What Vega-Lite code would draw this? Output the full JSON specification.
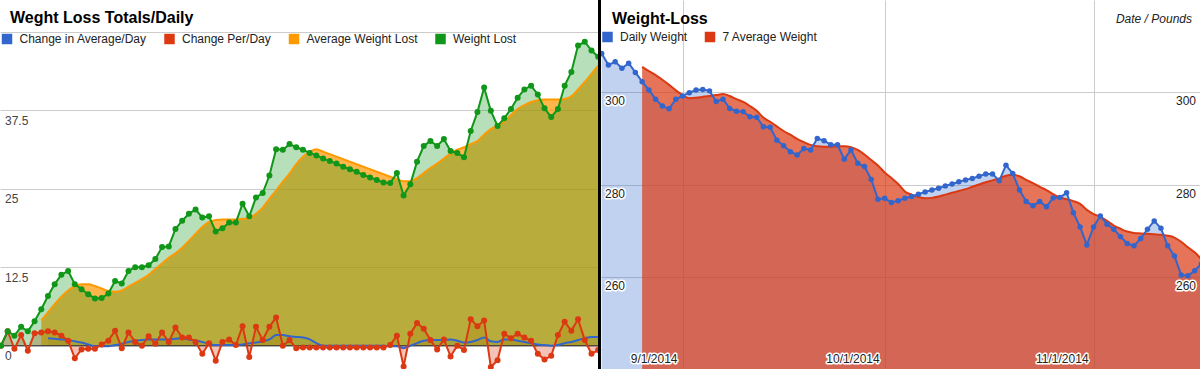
{
"$schema": "https://vega.github.io/schema/vega-lite/v6.json",
"width": 1200, "height": 369,
"autosize": {"type": "none"},
"padding": 0,
"background": "#ffffff",
"title": {"text": "Weght Loss Totals/Daily", "anchor": "start", "frame": "group", "orient": "top", "baseline": "top", "offset": -27, "dx": 10, "fontSize": 16, "fontWeight": "bold", "color": "#000000", "font": "Liberation Sans"},
"config": {
  "font": "Liberation Sans",
  "view": {"stroke": null},
  "legend": {"orient": "none", "direction": "horizontal", "symbolType": "square", "symbolSize": 110, "symbolStrokeWidth": 0, "symbolOpacity": 1, "labelFontSize": 12, "labelColor": "#222222", "labelFont": "Liberation Sans", "columnPadding": 16.5, "labelOffset": 6.5, "padding": 0}
},
"datasets": {
  "L": [
    {"i":0,"wl":0.0,"avg":null,"cpd":0.0,"cad":null},
    {"i":1,"wl":2.3,"avg":null,"cpd":2.3,"cad":null},
    {"i":2,"wl":1.6,"avg":null,"cpd":-0.5,"cad":null},
    {"i":3,"wl":3.0,"avg":null,"cpd":1.7,"cad":null},
    {"i":4,"wl":2.3,"avg":null,"cpd":-0.8,"cad":null},
    {"i":5,"wl":3.9,"avg":null,"cpd":2.0,"cad":null},
    {"i":6,"wl":5.8,"avg":4.0,"cpd":2.1,"cad":null},
    {"i":7,"wl":7.9,"avg":5.3,"cpd":2.3,"cad":1.2},
    {"i":8,"wl":9.8,"avg":6.6,"cpd":2.1,"cad":1.1},
    {"i":9,"wl":11.3,"avg":7.8,"cpd":1.6,"cad":1.0},
    {"i":10,"wl":11.9,"avg":8.8,"cpd":0.8,"cad":0.9},
    {"i":11,"wl":9.8,"avg":9.5,"cpd":-2.0,"cad":0.7},
    {"i":12,"wl":9.0,"avg":9.8,"cpd":-0.6,"cad":0.5},
    {"i":13,"wl":8.2,"avg":9.8,"cpd":-0.5,"cad":0.2},
    {"i":14,"wl":7.5,"avg":9.5,"cpd":-0.5,"cad":-0.1},
    {"i":15,"wl":7.6,"avg":9.1,"cpd":0.2,"cad":-0.1},
    {"i":16,"wl":8.3,"avg":8.7,"cpd":0.8,"cad":-0.1},
    {"i":17,"wl":10.3,"avg":8.6,"cpd":2.4,"cad":0.1},
    {"i":18,"wl":9.9,"avg":8.8,"cpd":-0.4,"cad":0.3},
    {"i":19,"wl":11.9,"avg":9.4,"cpd":2.1,"cad":0.6},
    {"i":20,"wl":12.5,"avg":10.0,"cpd":0.6,"cad":0.8},
    {"i":21,"wl":12.5,"avg":10.6,"cpd":0.0,"cad":0.9},
    {"i":22,"wl":12.8,"avg":11.3,"cpd":1.5,"cad":1.0},
    {"i":23,"wl":13.8,"avg":12.2,"cpd":0.3,"cad":1.0},
    {"i":24,"wl":15.7,"avg":13.1,"cpd":2.1,"cad":1.0},
    {"i":25,"wl":15.8,"avg":14.0,"cpd":0.6,"cad":1.0},
    {"i":26,"wl":18.6,"avg":14.7,"cpd":2.9,"cad":1.1},
    {"i":27,"wl":19.9,"avg":15.6,"cpd":1.3,"cad":1.2},
    {"i":28,"wl":21.0,"avg":16.7,"cpd":1.3,"cad":1.0},
    {"i":29,"wl":21.7,"avg":17.8,"cpd":0.6,"cad":0.8},
    {"i":30,"wl":20.4,"avg":18.9,"cpd":-1.3,"cad":0.6},
    {"i":31,"wl":20.6,"avg":19.7,"cpd":0.4,"cad":0.3},
    {"i":32,"wl":18.2,"avg":20.0,"cpd":-2.4,"cad":0.1},
    {"i":33,"wl":18.7,"avg":20.1,"cpd":0.6,"cad":0.1},
    {"i":34,"wl":19.6,"avg":20.1,"cpd":1.0,"cad":0.1},
    {"i":35,"wl":19.6,"avg":20.1,"cpd":0.1,"cad":0.1},
    {"i":36,"wl":22.6,"avg":20.2,"cpd":3.1,"cad":0.2},
    {"i":37,"wl":20.6,"avg":20.3,"cpd":-1.8,"cad":0.4},
    {"i":38,"wl":23.6,"avg":21.0,"cpd":3.0,"cad":0.5},
    {"i":39,"wl":24.3,"avg":22.0,"cpd":0.9,"cad":0.7},
    {"i":40,"wl":27.1,"avg":23.4,"cpd":3.0,"cad":1.0},
    {"i":41,"wl":31.3,"avg":24.7,"cpd":4.5,"cad":1.7},
    {"i":42,"wl":31.2,"avg":26.1,"cpd":0.0,"cad":1.7},
    {"i":43,"wl":32.1,"avg":27.4,"cpd":0.9,"cad":1.5},
    {"i":44,"wl":31.6,"avg":28.9,"cpd":-0.4,"cad":1.4},
    {"i":45,"wl":31.2,"avg":30.1,"cpd":-0.3,"cad":1.3},
    {"i":46,"wl":30.7,"avg":30.9,"cpd":-0.3,"cad":1.0},
    {"i":47,"wl":30.3,"avg":31.3,"cpd":-0.3,"cad":0.4},
    {"i":48,"wl":29.8,"avg":30.9,"cpd":-0.3,"cad":0.0},
    {"i":49,"wl":29.4,"avg":30.5,"cpd":-0.3,"cad":0.0},
    {"i":50,"wl":29.0,"avg":30.1,"cpd":-0.3,"cad":0.0},
    {"i":51,"wl":28.5,"avg":29.7,"cpd":-0.3,"cad":0.0},
    {"i":52,"wl":28.1,"avg":29.3,"cpd":-0.3,"cad":0.0},
    {"i":53,"wl":27.7,"avg":28.9,"cpd":-0.3,"cad":0.0},
    {"i":54,"wl":27.2,"avg":28.5,"cpd":-0.3,"cad":0.0},
    {"i":55,"wl":26.8,"avg":28.1,"cpd":-0.3,"cad":0.0},
    {"i":56,"wl":26.4,"avg":27.7,"cpd":-0.3,"cad":0.0},
    {"i":57,"wl":26.0,"avg":27.3,"cpd":-0.3,"cad":0.0},
    {"i":58,"wl":25.9,"avg":26.9,"cpd":0.1,"cad":-0.1},
    {"i":59,"wl":27.5,"avg":26.5,"cpd":1.6,"cad":-0.1},
    {"i":60,"wl":23.9,"avg":26.2,"cpd":-3.3,"cad":-0.4},
    {"i":61,"wl":25.7,"avg":26.2,"cpd":1.9,"cad":0.0},
    {"i":62,"wl":29.3,"avg":26.7,"cpd":3.6,"cad":0.4},
    {"i":63,"wl":31.8,"avg":27.5,"cpd":2.7,"cad":0.8},
    {"i":64,"wl":32.6,"avg":28.3,"cpd":0.9,"cad":0.9},
    {"i":65,"wl":31.8,"avg":29.0,"cpd":-0.6,"cad":0.9},
    {"i":66,"wl":32.9,"avg":29.8,"cpd":1.0,"cad":0.9},
    {"i":67,"wl":31.0,"avg":30.6,"cpd":-1.7,"cad":1.0},
    {"i":68,"wl":30.7,"avg":31.2,"cpd":0.0,"cad":0.8},
    {"i":69,"wl":30.0,"avg":31.6,"cpd":-0.7,"cad":0.5},
    {"i":70,"wl":34.2,"avg":32.1,"cpd":4.2,"cad":0.6},
    {"i":71,"wl":37.2,"avg":32.6,"cpd":3.1,"cad":0.9},
    {"i":72,"wl":41.1,"avg":33.6,"cpd":4.0,"cad":1.3},
    {"i":73,"wl":37.4,"avg":34.5,"cpd":-3.4,"cad":0.7},
    {"i":74,"wl":35.0,"avg":35.0,"cpd":-2.3,"cad":0.6},
    {"i":75,"wl":36.2,"avg":35.7,"cpd":1.9,"cad":1.0},
    {"i":76,"wl":37.7,"avg":36.7,"cpd":1.2,"cad":1.0},
    {"i":77,"wl":39.5,"avg":37.7,"cpd":1.9,"cad":0.8},
    {"i":78,"wl":40.8,"avg":38.3,"cpd":1.3,"cad":0.6},
    {"i":79,"wl":41.4,"avg":38.8,"cpd":0.8,"cad":0.4},
    {"i":80,"wl":40.0,"avg":39.1,"cpd":-1.3,"cad":0.2},
    {"i":81,"wl":37.8,"avg":39.2,"cpd":-2.2,"cad":0.1},
    {"i":82,"wl":36.4,"avg":39.2,"cpd":-1.6,"cad":0.0},
    {"i":83,"wl":37.7,"avg":39.2,"cpd":1.7,"cad":0.1},
    {"i":84,"wl":41.4,"avg":39.3,"cpd":3.8,"cad":0.4},
    {"i":85,"wl":43.6,"avg":39.7,"cpd":2.4,"cad":0.6},
    {"i":86,"wl":47.8,"avg":40.8,"cpd":4.2,"cad":0.9},
    {"i":87,"wl":48.4,"avg":42.0,"cpd":0.9,"cad":1.2},
    {"i":88,"wl":47.0,"avg":43.3,"cpd":-1.3,"cad":1.4},
    {"i":89,"wl":46.0,"avg":44.6,"cpd":-0.7,"cad":1.4}
  ],
  "R": [
    {"d":"2014-08-20","w":308.4,"a":null},
    {"d":"2014-08-21","w":305.9,"a":null},
    {"d":"2014-08-22","w":306.6,"a":null},
    {"d":"2014-08-23","w":305.2,"a":null},
    {"d":"2014-08-24","w":306.3,"a":null},
    {"d":"2014-08-25","w":304.3,"a":null},
    {"d":"2014-08-26","w":302.3,"a":305.5},
    {"d":"2014-08-27","w":300.5,"a":304.6},
    {"d":"2014-08-28","w":298.5,"a":303.7},
    {"d":"2014-08-29","w":297.0,"a":302.7},
    {"d":"2014-08-30","w":296.4,"a":301.6},
    {"d":"2014-08-31","w":298.5,"a":300.4},
    {"d":"2014-09-01","w":299.2,"a":299.4},
    {"d":"2014-09-02","w":299.9,"a":298.7},
    {"d":"2014-09-03","w":300.5,"a":298.8},
    {"d":"2014-09-04","w":300.6,"a":299.0},
    {"d":"2014-09-05","w":300.3,"a":299.2},
    {"d":"2014-09-06","w":298.0,"a":299.4},
    {"d":"2014-09-07","w":298.5,"a":299.6},
    {"d":"2014-09-08","w":296.5,"a":299.2},
    {"d":"2014-09-09","w":295.9,"a":298.5},
    {"d":"2014-09-10","w":295.8,"a":297.9},
    {"d":"2014-09-11","w":294.7,"a":297.0},
    {"d":"2014-09-12","w":294.6,"a":296.0},
    {"d":"2014-09-13","w":292.5,"a":294.5},
    {"d":"2014-09-14","w":292.4,"a":293.6},
    {"d":"2014-09-15","w":289.6,"a":292.6},
    {"d":"2014-09-16","w":288.4,"a":291.6},
    {"d":"2014-09-17","w":287.1,"a":290.8},
    {"d":"2014-09-18","w":286.4,"a":289.9},
    {"d":"2014-09-19","w":287.8,"a":289.2},
    {"d":"2014-09-20","w":287.5,"a":288.6},
    {"d":"2014-09-21","w":290.0,"a":288.3},
    {"d":"2014-09-22","w":289.5,"a":288.2},
    {"d":"2014-09-23","w":288.6,"a":288.2},
    {"d":"2014-09-24","w":288.6,"a":288.3},
    {"d":"2014-09-25","w":285.5,"a":288.3},
    {"d":"2014-09-26","w":287.5,"a":288.1},
    {"d":"2014-09-27","w":284.6,"a":287.5},
    {"d":"2014-09-28","w":283.9,"a":286.5},
    {"d":"2014-09-29","w":281.1,"a":285.3},
    {"d":"2014-09-30","w":276.8,"a":284.1},
    {"d":"2014-10-01","w":277.0,"a":282.6},
    {"d":"2014-10-02","w":276.1,"a":281.4},
    {"d":"2014-10-03","w":276.5,"a":280.1},
    {"d":"2014-10-04","w":277.0,"a":278.5},
    {"d":"2014-10-05","w":277.4,"a":277.8},
    {"d":"2014-10-06","w":277.9,"a":277.3},
    {"d":"2014-10-07","w":278.4,"a":277.0},
    {"d":"2014-10-08","w":278.8,"a":277.1},
    {"d":"2014-10-09","w":279.2,"a":277.4},
    {"d":"2014-10-10","w":279.7,"a":277.8},
    {"d":"2014-10-11","w":280.1,"a":278.2},
    {"d":"2014-10-12","w":280.6,"a":278.6},
    {"d":"2014-10-13","w":281.0,"a":279.0},
    {"d":"2014-10-14","w":281.3,"a":279.5},
    {"d":"2014-10-15","w":281.8,"a":280.0},
    {"d":"2014-10-16","w":282.3,"a":280.5},
    {"d":"2014-10-17","w":282.3,"a":280.9},
    {"d":"2014-10-18","w":280.8,"a":281.3},
    {"d":"2014-10-19","w":284.2,"a":281.9},
    {"d":"2014-10-20","w":282.4,"a":282.1},
    {"d":"2014-10-21","w":278.8,"a":281.8},
    {"d":"2014-10-22","w":276.3,"a":281.0},
    {"d":"2014-10-23","w":275.4,"a":280.3},
    {"d":"2014-10-24","w":276.3,"a":279.5},
    {"d":"2014-10-25","w":275.2,"a":278.8},
    {"d":"2014-10-26","w":277.1,"a":277.9},
    {"d":"2014-10-27","w":277.2,"a":277.2},
    {"d":"2014-10-28","w":278.2,"a":276.8},
    {"d":"2014-10-29","w":273.9,"a":276.4},
    {"d":"2014-10-30","w":270.8,"a":275.8},
    {"d":"2014-10-31","w":266.9,"a":274.5},
    {"d":"2014-11-01","w":270.8,"a":273.6},
    {"d":"2014-11-02","w":273.2,"a":273.0},
    {"d":"2014-11-03","w":271.4,"a":272.1},
    {"d":"2014-11-04","w":270.3,"a":271.1},
    {"d":"2014-11-05","w":268.7,"a":270.4},
    {"d":"2014-11-06","w":267.2,"a":269.8},
    {"d":"2014-11-07","w":266.7,"a":269.5},
    {"d":"2014-11-08","w":268.3,"a":269.4},
    {"d":"2014-11-09","w":270.3,"a":269.3},
    {"d":"2014-11-10","w":272.1,"a":269.2},
    {"d":"2014-11-11","w":270.5,"a":269.1},
    {"d":"2014-11-12","w":266.7,"a":268.9},
    {"d":"2014-11-13","w":264.5,"a":268.5},
    {"d":"2014-11-14","w":260.4,"a":267.6},
    {"d":"2014-11-15","w":260.2,"a":266.4},
    {"d":"2014-11-16","w":261.3,"a":265.3},
    {"d":"2014-11-17","w":262.8,"a":263.8}
  ],
  "RT": [{"v":300},{"v":280},{"v":260}],
  "RD": [{"d":"2014-09-01","t":"9/1/2014"},{"d":"2014-10-01","t":"10/1/2014"},{"d":"2014-11-01","t":"11/1/2014"}]
},
"layer": [
  {
    "layer": [
      {
        "data": {"name": "L"},
        "transform": [{"fold": ["wl","avg","cpd","cad"], "as": ["s","v"]}],
        "encoding": {
          "x": {"field": "i", "type": "quantitative", "scale": {"domain": [-0.149, 89.12], "range": [0, 599], "nice": false, "zero": false}, "axis": null},
          "y": {"field": "v", "type": "quantitative", "scale": {"domain": [-3.71, 55.05], "nice": false, "zero": false},
                "axis": {"orient": "left", "values": [0, 12.5, 25, 37.5, 50], "grid": true, "gridColor": "#cccccc", "gridWidth": 1, "domain": false, "ticks": false, "tickSize": 0, "labelAlign": "left", "labelBaseline": "top", "labelPadding": -4.5, "labelOffset": 5, "labelFontSize": 12, "labelColor": "#444444", "labelFont": "Liberation Sans", "labelOverlap": false, "labelFlush": false, "labelBound": false, "labelExpr": "datum.value == 50 ? '' : toString(datum.value)", "title": null}}
        },
        "layer": [
          {"transform": [{"filter": {"field": "s", "equal": "cad"}}], "mark": {"type": "area", "fillOpacity": 0.3, "interpolate": "monotone"},
           "encoding": {"y2": {"datum": 0}, "fill": {"datum": "Change in Average/Day", "type": "nominal", "scale": {"domain": ["Change in Average/Day","Change Per/Day","Average Weight Lost","Weight Lost"], "range": ["#3366cc","#dc3912","#ff9900","#109618"]}, "legend": {"title": null, "legendX": 1, "legendY": 33}}}},
          {"transform": [{"filter": {"field": "s", "equal": "cpd"}}], "mark": {"type": "area", "fillOpacity": 0.3},
           "encoding": {"y2": {"datum": 0}, "fill": {"datum": "Change Per/Day", "type": "nominal", "scale": {"domain": ["Change in Average/Day","Change Per/Day","Average Weight Lost","Weight Lost"], "range": ["#3366cc","#dc3912","#ff9900","#109618"]}, "legend": {"title": null, "legendX": 1, "legendY": 33}}}},
          {"transform": [{"filter": {"field": "s", "equal": "avg"}}], "mark": {"type": "area", "fillOpacity": 0.7, "interpolate": "monotone"},
           "encoding": {"y2": {"datum": 0}, "fill": {"datum": "Average Weight Lost", "type": "nominal", "scale": {"domain": ["Change in Average/Day","Change Per/Day","Average Weight Lost","Weight Lost"], "range": ["#3366cc","#dc3912","#ff9900","#109618"]}, "legend": {"title": null, "legendX": 1, "legendY": 33}}}},
          {"transform": [{"filter": {"field": "s", "equal": "wl"}}], "mark": {"type": "area", "fillOpacity": 0.3},
           "encoding": {"y2": {"datum": 0}, "fill": {"datum": "Weight Lost", "type": "nominal", "scale": {"domain": ["Change in Average/Day","Change Per/Day","Average Weight Lost","Weight Lost"], "range": ["#3366cc","#dc3912","#ff9900","#109618"]}, "legend": {"title": null, "legendX": 1, "legendY": 33}}}}
        ]
      },
      {
        "data": {"values": [{"v": 0}]},
        "mark": {"type": "rule", "color": "#333333", "strokeWidth": 1},
        "encoding": {
          "x": {"datum": -0.149, "type": "quantitative", "scale": {"domain": [-0.149, 89.12], "range": [0, 599], "nice": false, "zero": false}, "axis": null},
          "x2": {"datum": 89.12},
          "y": {"field": "v", "type": "quantitative", "scale": {"domain": [-3.71, 55.05], "nice": false, "zero": false},
                "axis": {"orient": "left", "values": [0, 12.5, 25, 37.5, 50], "grid": true, "gridColor": "#cccccc", "gridWidth": 1, "domain": false, "ticks": false, "tickSize": 0, "labelAlign": "left", "labelBaseline": "top", "labelPadding": -4.5, "labelOffset": 5, "labelFontSize": 12, "labelColor": "#444444", "labelFont": "Liberation Sans", "labelOverlap": false, "labelFlush": false, "labelBound": false, "labelExpr": "datum.value == 50 ? '' : toString(datum.value)", "title": null}}
        }
      },
      {
        "data": {"name": "L"},
        "transform": [{"fold": ["wl","avg","cpd","cad"], "as": ["s","v"]}],
        "encoding": {
          "x": {"field": "i", "type": "quantitative", "scale": {"domain": [-0.149, 89.12], "range": [0, 599], "nice": false, "zero": false}, "axis": null},
          "y": {"field": "v", "type": "quantitative", "scale": {"domain": [-3.71, 55.05], "nice": false, "zero": false},
                "axis": {"orient": "left", "values": [0, 12.5, 25, 37.5, 50], "grid": true, "gridColor": "#cccccc", "gridWidth": 1, "domain": false, "ticks": false, "tickSize": 0, "labelAlign": "left", "labelBaseline": "top", "labelPadding": -4.5, "labelOffset": 5, "labelFontSize": 12, "labelColor": "#444444", "labelFont": "Liberation Sans", "labelOverlap": false, "labelFlush": false, "labelBound": false, "labelExpr": "datum.value == 50 ? '' : toString(datum.value)", "title": null}}
        },
        "layer": [
          {"transform": [{"filter": {"field": "s", "equal": "cad"}}], "mark": {"type": "line", "color": "#3366cc", "strokeWidth": 2, "interpolate": "monotone"}},
          {"transform": [{"filter": {"field": "s", "equal": "cpd"}}], "mark": {"type": "line", "color": "#dc3912", "strokeWidth": 2}},
          {"transform": [{"filter": {"field": "s", "equal": "avg"}}], "mark": {"type": "line", "color": "#ff9900", "strokeWidth": 2, "interpolate": "monotone"}},
          {"transform": [{"filter": {"field": "s", "equal": "wl"}}], "mark": {"type": "line", "color": "#109618", "strokeWidth": 2}},
          {"transform": [{"filter": {"field": "s", "equal": "cpd"}}], "mark": {"type": "point", "filled": true, "color": "#dc3912", "size": 36, "opacity": 1}},
          {"transform": [{"filter": {"field": "s", "equal": "wl"}}], "mark": {"type": "point", "filled": true, "color": "#109618", "size": 36, "opacity": 1}}
        ]
      }
    ]
  },
  {
    "data": {"name": "R"},
    "transform": [{"fold": ["w","a"], "as": ["s","v"]}],
    "encoding": {
      "x": {"field": "d", "type": "temporal",
            "scale": {"type": "utc", "domain": [{"year":2014,"month":8,"date":19,"hours":14,"minutes":23,"utc":true},{"year":2014,"month":11,"date":16,"hours":19,"minutes":5,"utc":true}], "range": [599, 1200]},
            "axis": {"orient": "bottom", "values": [{"year":2014,"month":9,"date":1,"utc":true},{"year":2014,"month":10,"date":1,"utc":true},{"year":2014,"month":11,"date":1,"utc":true}], "grid": true, "gridColor": "#cccccc", "gridWidth": 1, "labels": false, "ticks": false, "domain": false,
                     "title": "Date / Pounds", "titleX": 1191.5, "titleY": -347, "titleAlign": "right", "titleAnchor": "end", "titleBaseline": "alphabetic", "titleFontSize": 12, "titleFontStyle": "italic", "titleFontWeight": "normal", "titleColor": "#222222", "titleFont": "Liberation Sans"}},
      "y": {"field": "v", "type": "quantitative", "scale": {"domain": [240, 320], "nice": false, "zero": false},
            "axis": {"orient": "left", "values": [260, 280, 300], "grid": true, "gridColor": "#cccccc", "gridWidth": 1, "labels": false, "ticks": false, "domain": false,
                     "title": "Weight-Loss", "titleAngle": 0, "titleX": 611.5, "titleY": 23, "titleAlign": "left", "titleAnchor": "start", "titleBaseline": "alphabetic", "titleFontSize": 16, "titleFontWeight": "bold", "titleColor": "#000000", "titleFont": "Liberation Sans"}}
    },
    "layer": [
      {"transform": [{"filter": {"field": "s", "equal": "w"}}], "mark": {"type": "area", "fillOpacity": 0.3, "clip": true},
       "encoding": {"y2": {"datum": 240}, "fill": {"datum": "Daily Weight", "type": "nominal", "scale": {"domain": ["Daily Weight","7 Average Weight"], "range": ["#3366cc","#dc3912"]}, "legend": {"title": null, "legendX": 601.5, "legendY": 31}}}},
      {"transform": [{"filter": {"field": "s", "equal": "a"}}], "mark": {"type": "area", "fillOpacity": 0.7, "interpolate": "monotone", "clip": true},
       "encoding": {"y2": {"datum": 240}, "fill": {"datum": "7 Average Weight", "type": "nominal", "scale": {"domain": ["Daily Weight","7 Average Weight"], "range": ["#3366cc","#dc3912"]}, "legend": {"title": null, "legendX": 601.5, "legendY": 31}}}},
      {"transform": [{"filter": {"field": "s", "equal": "a"}}], "mark": {"type": "line", "color": "#dc3912", "strokeWidth": 2, "interpolate": "monotone", "clip": true}},
      {"transform": [{"filter": {"field": "s", "equal": "w"}}], "mark": {"type": "line", "color": "#3366cc", "strokeWidth": 2, "clip": true}},
      {"transform": [{"filter": {"field": "s", "equal": "w"}}], "mark": {"type": "point", "filled": true, "color": "#3366cc", "size": 30, "opacity": 1, "clip": true}}
    ]
  },
  {
    "layer": [
      {"data": {"name": "RT"}, "mark": {"type": "text", "align": "left", "baseline": "top", "dx": 6, "dy": 4, "fontSize": 12, "font": "Liberation Sans", "fill": "#ffffff", "stroke": "#ffffff", "strokeWidth": 3, "strokeJoin": "round"},
       "encoding": {"x": {"datum": {"year":2014,"month":8,"date":19,"hours":14,"minutes":23,"utc":true}, "type": "temporal", "scale": {"type": "utc", "domain": [{"year":2014,"month":8,"date":19,"hours":14,"minutes":23,"utc":true},{"year":2014,"month":11,"date":16,"hours":19,"minutes":5,"utc":true}], "range": [599, 1200]}, "axis": null},
                    "y": {"field": "v", "type": "quantitative", "scale": {"domain": [240, 320], "nice": false, "zero": false}, "axis": null},
                    "text": {"field": "v", "type": "quantitative"}}},
      {"data": {"name": "RT"}, "mark": {"type": "text", "align": "left", "baseline": "top", "dx": 6, "dy": 4, "fontSize": 12, "font": "Liberation Sans", "fill": "#222222"},
       "encoding": {"x": {"datum": {"year":2014,"month":8,"date":19,"hours":14,"minutes":23,"utc":true}, "type": "temporal", "scale": {"type": "utc", "domain": [{"year":2014,"month":8,"date":19,"hours":14,"minutes":23,"utc":true},{"year":2014,"month":11,"date":16,"hours":19,"minutes":5,"utc":true}], "range": [599, 1200]}, "axis": null},
                    "y": {"field": "v", "type": "quantitative", "scale": {"domain": [240, 320], "nice": false, "zero": false}, "axis": null},
                    "text": {"field": "v", "type": "quantitative"}}},
      {"data": {"name": "RT"}, "mark": {"type": "text", "align": "right", "baseline": "top", "dx": -4, "dy": 4, "fontSize": 12, "font": "Liberation Sans", "fill": "#ffffff", "stroke": "#ffffff", "strokeWidth": 3, "strokeJoin": "round"},
       "encoding": {"x": {"datum": {"year":2014,"month":11,"date":16,"hours":19,"minutes":5,"utc":true}, "type": "temporal", "scale": {"type": "utc", "domain": [{"year":2014,"month":8,"date":19,"hours":14,"minutes":23,"utc":true},{"year":2014,"month":11,"date":16,"hours":19,"minutes":5,"utc":true}], "range": [599, 1200]}, "axis": null},
                    "y": {"field": "v", "type": "quantitative", "scale": {"domain": [240, 320], "nice": false, "zero": false}, "axis": null},
                    "text": {"field": "v", "type": "quantitative"}}},
      {"data": {"name": "RT"}, "mark": {"type": "text", "align": "right", "baseline": "top", "dx": -4, "dy": 4, "fontSize": 12, "font": "Liberation Sans", "fill": "#222222"},
       "encoding": {"x": {"datum": {"year":2014,"month":11,"date":16,"hours":19,"minutes":5,"utc":true}, "type": "temporal", "scale": {"type": "utc", "domain": [{"year":2014,"month":8,"date":19,"hours":14,"minutes":23,"utc":true},{"year":2014,"month":11,"date":16,"hours":19,"minutes":5,"utc":true}], "range": [599, 1200]}, "axis": null},
                    "y": {"field": "v", "type": "quantitative", "scale": {"domain": [240, 320], "nice": false, "zero": false}, "axis": null},
                    "text": {"field": "v", "type": "quantitative"}}},
      {"data": {"name": "RD"}, "mark": {"type": "text", "align": "right", "baseline": "alphabetic", "dx": -5, "dy": -6, "fontSize": 12, "font": "Liberation Sans", "fill": "#ffffff", "stroke": "#ffffff", "strokeWidth": 3, "strokeJoin": "round"},
       "encoding": {"x": {"field": "d", "type": "temporal", "scale": {"type": "utc", "domain": [{"year":2014,"month":8,"date":19,"hours":14,"minutes":23,"utc":true},{"year":2014,"month":11,"date":16,"hours":19,"minutes":5,"utc":true}], "range": [599, 1200]}, "axis": null},
                    "y": {"datum": 240, "type": "quantitative", "scale": {"domain": [240, 320], "nice": false, "zero": false}, "axis": null},
                    "text": {"field": "t", "type": "nominal"}}},
      {"data": {"name": "RD"}, "mark": {"type": "text", "align": "right", "baseline": "alphabetic", "dx": -5, "dy": -6, "fontSize": 12, "font": "Liberation Sans", "fill": "#222222"},
       "encoding": {"x": {"field": "d", "type": "temporal", "scale": {"type": "utc", "domain": [{"year":2014,"month":8,"date":19,"hours":14,"minutes":23,"utc":true},{"year":2014,"month":11,"date":16,"hours":19,"minutes":5,"utc":true}], "range": [599, 1200]}, "axis": null},
                    "y": {"datum": 240, "type": "quantitative", "scale": {"domain": [240, 320], "nice": false, "zero": false}, "axis": null},
                    "text": {"field": "t", "type": "nominal"}}},
      {"data": {"values": [{"edge": "start"}]}, "mark": {"type": "rule", "color": "#000000", "strokeWidth": 3},
       "encoding": {"x": {"datum": {"year":2014,"month":8,"date":19,"hours":16,"minutes":10,"utc":true}, "type": "temporal", "scale": {"type": "utc", "domain": [{"year":2014,"month":8,"date":19,"hours":14,"minutes":23,"utc":true},{"year":2014,"month":11,"date":16,"hours":19,"minutes":5,"utc":true}], "range": [599, 1200]}, "axis": null},
                    "y": {"datum": 320, "type": "quantitative", "scale": {"domain": [240, 320], "nice": false, "zero": false}, "axis": null},
                    "y2": {"datum": 240}}}
    ]
  }
],
"resolve": {"scale": {"x": "independent", "y": "independent", "fill": "independent"}, "axis": {"x": "independent", "y": "independent"}, "legend": {"fill": "independent"}}
}
